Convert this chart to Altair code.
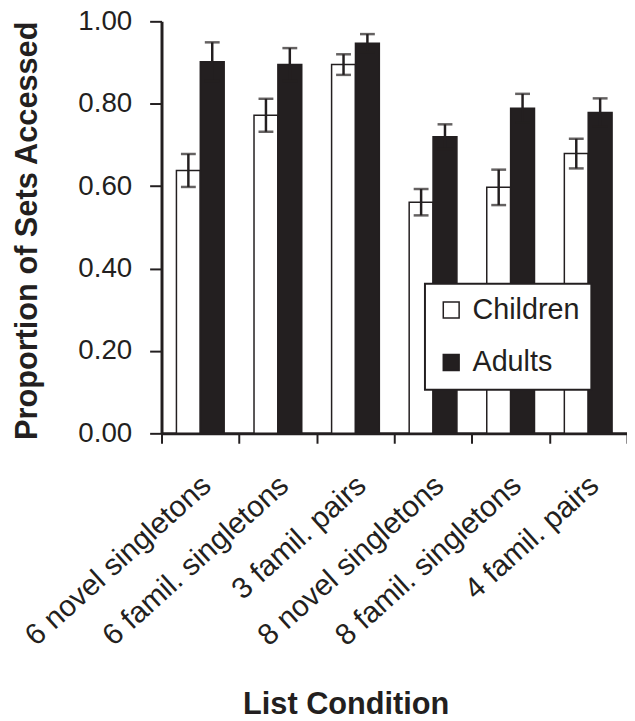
import altair as alt
import pandas as pd

conditions = ["6 novel singletons", "6 famil. singletons", "3 famil. pairs",
              "8 novel singletons", "8 famil. singletons", "4 famil. pairs"]
groups = ["Children", "Adults"]
children_mean = [0.638, 0.772, 0.895, 0.561, 0.597, 0.679]
adults_mean = [0.902, 0.895, 0.947, 0.720, 0.789, 0.779]
children_err = [0.040, 0.040, 0.025, 0.032, 0.043, 0.036]
adults_err = [0.047, 0.040, 0.022, 0.030, 0.035, 0.034]
y_ticks = [0.0, 0.2, 0.4, 0.6, 0.8, 1.0]

rows = []
for i, c in enumerate(conditions):
    rows.append({"condition": c, "group": "Children", "mean": children_mean[i], "err": children_err[i]})
    rows.append({"condition": c, "group": "Adults", "mean": adults_mean[i], "err": adults_err[i]})
df = pd.DataFrame(rows)

DARK = "#231f20"
FONT = "Liberation Sans"

x_axis = alt.Axis(
    title="List Condition", titleFont=FONT, titleFontSize=31, titleFontWeight="bold",
    titleColor=DARK, titleX=186, titleY=283, titleBaseline="alphabetic",
    labelAngle=-42, labelAlign="right", labelBaseline="middle", labelFontSize=30,
    labelFont=FONT, labelColor=DARK, labelPadding=38, labelOffset=6, labelLimit=500,
    tickBand="extent", tickSize=10, tickWidth=2, tickColor=DARK,
    domainColor=DARK, domainWidth=3, grid=False,
)
y_axis = alt.Axis(
    title="Proportion of Sets Accessed", titleFont=FONT, titleFontSize=31, titleFontWeight="bold",
    titleColor=DARK, titleX=-135, titleY=211, titleBaseline="middle", titleAngle=270,
    values=y_ticks, format=".2f", labelFontSize=28, labelFont=FONT, labelColor=DARK,
    labelPadding=18, tickSize=12, tickWidth=2, tickColor=DARK,
    domainColor=DARK, domainWidth=3, gridColor="white", gridWidth=2.5,
)

x_enc = alt.X("condition:N", sort=conditions,
              scale=alt.Scale(paddingInner=0, paddingOuter=0), axis=x_axis)
xoff = alt.XOffset("group:N", sort=groups,
                   scale=alt.Scale(paddingInner=0, paddingOuter=0.625))
y_scale = alt.Scale(domain=[0, 1], nice=False)

base = alt.Chart(df).transform_calculate(
    lo="datum.mean - datum.err", hi="datum.mean + datum.err"
)

bars = base.mark_bar(stroke=DARK, strokeWidth=1.5).encode(
    x=x_enc, xOffset=xoff,
    y=alt.Y("mean:Q", scale=y_scale, axis=y_axis),
    fill=alt.Fill("group:N", sort=groups,
                  scale=alt.Scale(domain=groups, range=["white", DARK]),
                  legend=alt.Legend(
                      title=None, orient="none", legendX=266, legendY=265,
                      fillColor="white", strokeColor=DARK,
                      padding=12, rowPadding=23, symbolType="square", symbolSize=256,
                      symbolStrokeColor=DARK, symbolStrokeWidth=1.5,
                      labelFontSize=29, labelFont=FONT, labelColor=DARK, labelOffset=7,
                  )),
)

rules = base.mark_rule(color=DARK, strokeWidth=2.5).encode(
    x=x_enc, xOffset=xoff,
    y=alt.Y("lo:Q", scale=y_scale, axis=y_axis),
    y2="hi:Q",
)
caps_hi = base.mark_tick(color=DARK, thickness=2.5, size=15).encode(
    x=x_enc, xOffset=xoff,
    y=alt.Y("hi:Q", scale=y_scale, axis=y_axis),
)
caps_lo = base.mark_tick(color=DARK, thickness=2.5, size=15).encode(
    x=x_enc, xOffset=xoff,
    y=alt.Y("lo:Q", scale=y_scale, axis=y_axis),
)

chart = alt.layer(bars, rules, caps_hi, caps_lo).properties(
    width=470, height=416,
    autosize=alt.AutoSizeParams(type="none"),
    padding={"left": 155, "top": 10, "right": 0, "bottom": 287},
).configure_view(fill="#d1d3d4", strokeWidth=0).configure(font=FONT).configure_legend(strokeWidth=2)

chart.save("out.html", embed_options={"renderer": "svg", "actions": False})
